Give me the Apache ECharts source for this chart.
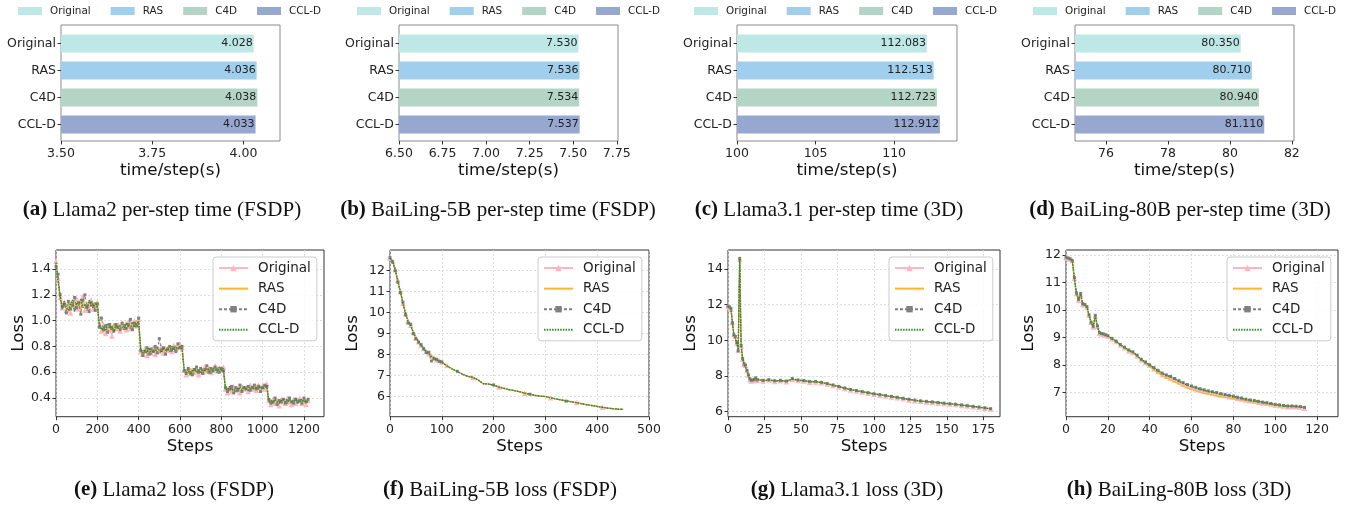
<!DOCTYPE html>
<html><head><meta charset="utf-8">
<script src="https://cdn.jsdelivr.net/npm/echarts@6/dist/echarts.min.js"></script>
<style>html,body{margin:0;padding:0;background:#fff}#c{width:1347px;height:505px}</style>
</head><body><div id="c"></div>
<script>
// ---------------- data ----------------
const methods = ['Original', 'RAS', 'C4D', 'CCL-D'];

// per-step time (s)
const timeLlama2 = [4.028, 4.036, 4.038, 4.033];
const timeBaiLing5B = [7.530, 7.536, 7.534, 7.537];
const timeLlama31 = [112.083, 112.513, 112.723, 112.912];
const timeBaiLing80B = [80.350, 80.710, 80.940, 81.110];

// tick labels
const ticksA = [3.5, 3.75, 4.0];
const ticksB = [6.5, 6.75, 7.0, 7.25, 7.5, 7.75];
const ticksC = [100, 105, 110];
const ticksD = [76, 78, 80, 82];
const ticksEx = [0, 200, 400, 600, 800, 1000, 1200];
const ticksEy = [0.4, 0.6, 0.8, 1.0, 1.2, 1.4];
const ticksFx = [0, 100, 200, 300, 400, 500];
const ticksFy = [6, 7, 8, 9, 10, 11, 12];
const ticksGx = [0, 25, 50, 75, 100, 125, 150, 175];
const ticksGy = [6, 8, 10, 12, 14];
const ticksHx = [0, 20, 40, 60, 80, 100, 120];
const ticksHy = [7, 8, 9, 10, 11, 12];

// (e) Llama2 loss (FSDP), one value every 10 steps from step 0
const eStepSize = 10;
const eOrig = [1.46,1.33,1.18,1.10,1.14,1.08,1.12,1.06,1.15,1.10,1.17,1.09,1.14,1.19,1.08,1.13,1.10,1.16,1.09,1.12,1.14,
  0.96,0.92,0.97,0.90,0.95,0.93,0.88,0.96,0.94,0.97,0.92,0.98,0.95,0.93,0.99,0.94,0.97,1.00,0.96,1.01,
  0.76,0.74,0.78,0.73,0.77,0.75,0.79,0.74,0.78,0.76,0.80,0.75,0.78,0.77,0.79,0.76,0.81,0.78,0.80,0.82,0.79,
  0.62,0.58,0.61,0.59,0.62,0.60,0.63,0.58,0.62,0.60,0.64,0.61,0.63,0.60,0.62,0.65,0.61,0.63,0.62,0.64,
  0.47,0.44,0.48,0.45,0.49,0.46,0.47,0.44,0.49,0.47,0.48,0.45,0.50,0.47,0.49,0.46,0.50,0.48,0.49,0.47,0.51,
  0.38,0.35,0.39,0.36,0.38,0.34,0.39,0.37,0.36,0.40,0.37,0.35,0.39,0.36,0.38,0.40,0.36,0.39,0.35,0.38];
const eRAS = [1.44,1.31,1.16,1.12,1.11,1.13,1.07,1.14,1.10,1.16,1.11,1.15,1.08,1.17,1.12,1.09,1.15,1.11,1.14,1.10,1.15,
  0.94,0.96,0.91,0.97,0.93,0.95,0.92,0.98,0.93,0.95,0.97,0.93,0.96,0.99,0.94,0.97,0.95,0.98,1.00,0.97,
  0.75,0.77,0.74,0.79,0.76,0.78,0.75,0.77,0.80,0.75,0.78,0.77,0.76,0.80,0.77,0.79,0.78,0.81,0.77,0.80,0.81,
  0.60,0.62,0.59,0.63,0.61,0.59,0.62,0.61,0.60,0.63,0.62,0.60,0.64,0.62,0.61,0.63,0.64,0.61,0.63,0.62,
  0.46,0.48,0.45,0.47,0.46,0.49,0.45,0.48,0.47,0.46,0.49,0.48,0.47,0.49,0.46,0.50,0.48,0.47,0.50,0.49,0.48,
  0.37,0.39,0.36,0.38,0.37,0.39,0.36,0.38,0.39,0.37,0.38,0.36,0.39,0.38,0.37,0.39,0.38,0.37,0.39,0.37];
const eC4D = [1.42,1.36,1.20,1.11,1.13,1.06,1.15,1.09,1.12,1.18,1.10,1.14,1.05,1.16,1.20,1.11,1.07,1.14,1.12,1.08,1.13,
  0.95,1.02,0.93,0.96,0.91,0.97,0.94,0.92,0.97,0.95,0.93,0.98,0.96,0.94,0.97,1.01,0.93,0.98,0.96,1.02,
  0.77,0.73,0.76,0.79,0.74,0.78,0.76,0.80,0.75,0.86,0.77,0.79,0.74,0.78,0.80,0.77,0.79,0.76,0.82,0.79,0.80,
  0.61,0.59,0.63,0.60,0.58,0.62,0.64,0.60,0.63,0.59,0.62,0.65,0.60,0.63,0.61,0.64,0.62,0.60,0.63,0.61,
  0.48,0.45,0.47,0.49,0.44,0.48,0.46,0.50,0.45,0.48,0.47,0.49,0.46,0.48,0.50,0.47,0.49,0.45,0.48,0.50,0.49,
  0.39,0.36,0.37,0.40,0.35,0.38,0.37,0.39,0.36,0.38,0.40,0.37,0.36,0.39,0.37,0.38,0.36,0.40,0.37,0.39];
const eCCLD = [1.45,1.30,1.19,1.09,1.15,1.10,1.08,1.13,1.16,1.07,1.14,1.12,1.17,1.10,1.13,1.08,1.16,1.12,1.10,1.14,1.11,
  0.97,0.93,0.95,0.92,0.98,0.94,0.96,0.91,0.97,0.94,0.96,0.95,0.93,0.98,0.96,0.94,0.99,0.95,0.98,0.99,
  0.78,0.75,0.77,0.75,0.79,0.74,0.77,0.76,0.79,0.77,0.75,0.79,0.77,0.78,0.76,0.80,0.77,0.79,0.78,0.80,0.78,
  0.63,0.60,0.62,0.58,0.61,0.63,0.60,0.62,0.59,0.62,0.61,0.63,0.62,0.59,0.63,0.62,0.60,0.64,0.61,0.63,
  0.48,0.46,0.49,0.46,0.47,0.45,0.48,0.47,0.46,0.49,0.47,0.46,0.48,0.49,0.47,0.48,0.47,0.49,0.47,0.48,0.50,
  0.37,0.38,0.36,0.39,0.37,0.36,0.38,0.39,0.37,0.36,0.39,0.38,0.37,0.40,0.36,0.38,0.39,0.37,0.38,0.36];

// (f) BaiLing-5B loss (FSDP)
const fSteps = [0,5,10,15,20,25,30,35,40,45,50,55,60,65,70,75,80,85,90,95,100,
  110,120,130,140,150,160,170,180,190,200,210,220,230,240,250,260,270,280,290,300,
  310,320,330,340,350,360,370,380,390,400,410,420,430,440,450];
const fOrig = [12.60,12.45,12.05,11.55,11.00,10.45,9.95,9.60,9.40,9.05,8.80,8.62,8.45,8.30,8.15,8.05,7.95,7.85,7.75,7.72,7.65,
  7.48,7.32,7.20,7.08,6.97,6.92,6.80,6.62,6.60,6.55,6.46,6.40,6.34,6.29,6.24,6.17,6.12,6.06,6.03,6.01,
  5.95,5.90,5.85,5.80,5.76,5.72,5.67,5.62,5.58,5.54,5.50,5.46,5.43,5.41,5.40];
const fRAS = [12.58,12.40,12.10,11.50,11.05,10.40,10.00,9.55,9.35,9.10,8.78,8.65,8.42,8.32,8.12,8.08,7.92,7.88,7.78,7.70,7.62,
  7.46,7.33,7.19,7.07,6.98,6.91,6.81,6.63,6.61,6.54,6.47,6.39,6.33,6.29,6.23,6.18,6.11,6.07,6.03,6.00,
  5.95,5.89,5.85,5.80,5.77,5.72,5.67,5.61,5.59,5.54,5.50,5.46,5.43,5.41,5.40];
const fC4D = [12.62,12.42,12.00,11.45,10.95,10.50,9.90,9.50,9.45,9.00,8.75,8.60,8.48,8.28,8.10,8.12,7.70,7.80,7.78,7.68,7.66,
  7.47,7.31,7.21,7.06,6.97,6.92,6.80,6.62,6.60,6.56,6.46,6.40,6.33,6.30,6.24,6.17,6.12,6.06,6.03,6.01,
  5.95,5.90,5.84,5.79,5.76,5.72,5.67,5.62,5.58,5.53,5.50,5.46,5.43,5.41,5.40];
const fCCLD = [12.60,12.44,12.06,11.52,11.02,10.44,9.97,9.58,9.38,9.06,8.80,8.63,8.44,8.30,8.14,8.06,7.90,7.84,7.76,7.71,7.64,
  7.47,7.32,7.20,7.07,6.97,6.92,6.80,6.62,6.60,6.55,6.46,6.40,6.34,6.29,6.24,6.17,6.12,6.06,6.03,6.01,
  5.95,5.90,5.85,5.80,5.76,5.72,5.67,5.62,5.58,5.54,5.50,5.46,5.43,5.41,5.40];
const fOrigMarkSteps = [110,160,210,260,310,360,410];
const fC4DMarkSteps = [130,200,270,340];

// (g) Llama3.1 loss (3D)
const gSteps = [0,1,2,3,4,5,6,7,8,9,10,11,12,13,14,15,16,17,18,19,20,
  24,28,32,36,40,44,48,52,56,60,64,68,72,76,80,84,88,92,96,100,
  104,108,112,116,120,124,128,132,136,140,144,148,152,156,160,164,168,172,176,180];
const gOrig = [11.9,11.85,11.75,11.0,10.35,10.25,9.85,9.45,14.55,9.7,8.95,8.65,8.6,8.3,8.05,7.8,7.72,7.75,7.78,7.85,7.75,
  7.72,7.78,7.7,7.74,7.68,7.8,7.75,7.72,7.65,7.66,7.62,7.55,7.47,7.38,7.3,7.22,7.16,7.1,7.04,6.98,
  6.93,6.88,6.83,6.78,6.72,6.66,6.62,6.58,6.55,6.52,6.48,6.46,6.43,6.4,6.35,6.32,6.28,6.24,6.2,6.15];
const gRAS = [11.9,11.85,11.78,11.05,10.3,10.2,9.9,9.5,14.5,9.75,9.0,8.7,8.58,8.3,8.0,7.82,7.74,7.74,7.8,7.84,7.76,
  7.74,7.76,7.72,7.73,7.7,7.82,7.76,7.73,7.67,7.67,7.63,7.56,7.48,7.4,7.32,7.24,7.18,7.12,7.06,7.0,
  6.95,6.9,6.85,6.8,6.74,6.68,6.64,6.6,6.57,6.54,6.5,6.47,6.44,6.41,6.37,6.33,6.29,6.25,6.21,6.16];
const gC4D = [11.92,11.88,11.8,10.98,10.32,10.22,9.88,9.42,14.6,9.72,8.98,8.68,8.62,8.32,8.06,7.84,7.76,7.78,7.82,7.9,7.78,
  7.76,7.8,7.74,7.76,7.72,7.86,7.78,7.75,7.7,7.7,7.65,7.58,7.5,7.42,7.33,7.25,7.19,7.13,7.07,7.01,
  6.96,6.91,6.86,6.81,6.75,6.7,6.65,6.61,6.58,6.55,6.52,6.48,6.45,6.42,6.38,6.34,6.3,6.26,6.22,6.17];
const gCCLD = [11.9,11.86,11.77,11.02,10.33,10.23,9.87,9.47,14.58,9.73,8.97,8.67,8.6,8.31,8.04,7.81,7.73,7.76,7.79,7.86,7.77,
  7.74,7.78,7.72,7.75,7.7,7.83,7.77,7.74,7.68,7.68,7.64,7.57,7.49,7.41,7.32,7.24,7.18,7.12,7.06,7.0,
  6.95,6.9,6.85,6.8,6.74,6.69,6.64,6.6,6.57,6.54,6.51,6.47,6.44,6.41,6.37,6.33,6.29,6.25,6.21,6.16];

// (h) BaiLing-80B loss (3D)
const hSteps = [0,1,2,3,4,5,6,7,8,9,10,11,12,13,14,15,16,17,18,19,20,
  22,24,26,28,30,32,34,36,38,40,42,44,46,48,50,52,54,56,58,60,62,64,66,68,70,
  72,74,76,78,80,82,84,86,88,90,92,94,96,98,100,102,104,106,108,110,112,114];
const hOrig = [11.9,11.88,11.85,11.8,11.15,10.6,10.35,10.55,10.2,10.18,10.1,9.8,9.55,9.38,9.78,9.4,9.15,9.12,9.1,9.08,9.05,
  8.95,8.85,8.72,8.62,8.5,8.45,8.32,8.18,8.08,7.98,7.86,7.76,7.65,7.58,7.52,7.45,7.38,7.3,7.24,7.18,
  7.13,7.08,7.04,7.0,6.97,6.94,6.9,6.88,6.84,6.82,6.78,6.75,6.72,6.69,6.67,6.64,6.62,6.6,6.57,6.54,
  6.52,6.5,6.47,6.48,6.47,6.46,6.42];
const hRAS = [11.9,11.87,11.84,11.8,11.12,10.58,10.38,10.5,10.2,10.16,10.08,9.78,9.52,9.4,9.75,9.38,9.14,9.12,9.1,9.07,9.04,
  8.94,8.84,8.72,8.6,8.5,8.44,8.3,8.16,8.05,7.94,7.8,7.7,7.6,7.52,7.45,7.37,7.3,7.22,7.16,7.1,
  7.05,7.0,6.96,6.93,6.9,6.87,6.84,6.82,6.79,6.77,6.74,6.72,6.69,6.67,6.65,6.62,6.6,6.58,6.55,6.53,
  6.51,6.5,6.48,6.49,6.48,6.47,6.44];
const hC4D = [11.92,11.89,11.86,11.8,11.18,10.62,10.38,10.6,10.22,10.2,10.12,9.82,9.55,9.4,9.8,9.42,9.17,9.14,9.12,9.09,9.06,
  8.96,8.86,8.74,8.64,8.54,8.47,8.35,8.2,8.1,8.0,7.9,7.8,7.7,7.63,7.58,7.5,7.42,7.35,7.28,7.23,
  7.18,7.13,7.09,7.05,7.02,6.99,6.95,6.92,6.89,6.86,6.82,6.79,6.75,6.72,6.7,6.67,6.64,6.62,6.59,6.56,
  6.54,6.52,6.5,6.5,6.49,6.48,6.45];
const hCCLD = [11.9,11.88,11.85,11.8,11.16,10.6,10.37,10.58,10.21,10.19,10.11,9.81,9.54,9.39,9.79,9.41,9.16,9.13,9.11,9.08,9.05,
  8.95,8.85,8.73,8.63,8.52,8.46,8.34,8.19,8.09,7.99,7.88,7.78,7.68,7.61,7.56,7.48,7.4,7.33,7.27,7.21,
  7.16,7.11,7.07,7.03,7.0,6.97,6.93,6.9,6.87,6.84,6.8,6.77,6.74,6.71,6.69,6.66,6.63,6.61,6.58,6.55,
  6.53,6.51,6.49,6.5,6.48,6.47,6.44];

const captions = [
  ['(a)', 'Llama2 per-step time (FSDP)'],
  ['(b)', 'BaiLing-5B per-step time (FSDP)'],
  ['(c)', 'Llama3.1 per-step time (3D)'],
  ['(d)', 'BaiLing-80B per-step time (3D)'],
  ['(e)', 'Llama2 loss (FSDP)'],
  ['(f)', 'BaiLing-5B loss (FSDP)'],
  ['(g)', 'Llama3.1 loss (3D)'],
  ['(h)', 'BaiLing-80B loss (3D)']
];

// ---------------- layout / style ----------------
const FONT = 'DejaVu Sans';
const barColors = ['#BEE8E6', '#A0CEED', '#B4D5C6', '#96A8D0'];
const lineColors = { Original: '#FFB6C1', RAS: '#FFB52E', C4D: '#808080', 'CCL-D': '#2F8F2A' };

const barCharts = [
  { vals: timeLlama2, left: 61, right: 280, min: 3.5, max: 4.1, ticks: ticksA, dec: 2, legendLeft: 18 },
  { vals: timeBaiLing5B, left: 399, right: 618, min: 6.5, max: 7.757, ticks: ticksB, dec: 2, legendLeft: 357 },
  { vals: timeLlama31, left: 737, right: 957, min: 100, max: 114, ticks: ticksC, dec: 0, legendLeft: 694 },
  { vals: timeBaiLing80B, left: 1075, right: 1294, min: 75, max: 82.07, ticks: ticksD, dec: 0, legendLeft: 1033 }
];

const eSteps = eOrig.map((_, i) => i * eStepSize);
const lineCharts = [
  { steps: eSteps, vals: [eOrig, eRAS, eC4D, eCCLD], left: 56, right: 324, xmax: 1297, xt: ticksEx,
    ymin: 0.255, ymax: 1.548, yt: ticksEy, ydec: 1, legendLeft: 213 },
  { steps: fSteps, vals: [fOrig, fRAS, fC4D, fCCLD], left: 390, right: 649, xmax: 500, xt: ticksFx,
    ymin: 5.05, ymax: 12.98, yt: ticksFy, ydec: 0, legendLeft: 538,
    marks: [fOrigMarkSteps, null, fC4DMarkSteps, null], denseUntil: 100 },
  { steps: gSteps, vals: [gOrig, gRAS, gC4D, gCCLD], left: 728, right: 1000, xmax: 186.4, xt: ticksGx,
    ymin: 5.72, ymax: 15.07, yt: ticksGy, ydec: 0, legendLeft: 889 },
  { steps: hSteps, vals: [hOrig, hRAS, hC4D, hCCLD], left: 1066, right: 1338, xmax: 130, xt: ticksHx,
    ymin: 6.11, ymax: 12.18, yt: ticksHy, ydec: 0, legendLeft: 1227 }
];

const grids = [], xAxes = [], yAxes = [], series = [], legends = [];
const tickLabelStyle = { fontSize: 12.5, color: '#222', fontFamily: FONT };
const nameStyle = { fontSize: 16.7, color: '#111', fontFamily: FONT };

// ---- bar charts (top row) ----
barCharts.forEach((c) => {
  const w = c.right - c.left;
  const gOuter = grids.length;
  grids.push({ left: c.left, top: 25, width: w, height: 116, show: true, borderColor: '#8a8a8a', borderWidth: 1,
    backgroundColor: 'rgba(0,0,0,0)', outerBoundsMode: 'none', containLabel: false });
  xAxes.push({ gridIndex: gOuter, type: 'value', show: false, min: 0, max: 1 });
  yAxes.push({ gridIndex: gOuter, type: 'value', show: false, min: 0, max: 1 });

  const gInner = grids.length;
  grids.push({ left: c.left, top: 30, width: w, height: 108, show: false, outerBoundsMode: 'none', containLabel: false });
  const xi = xAxes.length;
  xAxes.push({
    gridIndex: gInner, type: 'value', min: c.min, max: c.max, offset: 3,
    axisLine: { show: false },
    axisTick: { show: true, length: 3.5, lineStyle: { color: '#333' }, customValues: c.ticks },
    axisLabel: { customValues: c.ticks, formatter: (v) => Number(v).toFixed(c.dec), margin: 6, ...tickLabelStyle },
    splitLine: { show: false },
    name: 'time/step(s)', nameLocation: 'middle', nameGap: 21, nameTextStyle: nameStyle
  });
  const yi = yAxes.length;
  yAxes.push({
    gridIndex: gInner, type: 'category', data: methods, inverse: true,
    axisLine: { show: false },
    axisTick: { show: true, alignWithLabel: true, length: 3.5, lineStyle: { color: '#333' } },
    axisLabel: { margin: 5, ...tickLabelStyle },
    splitLine: { show: false }
  });
  methods.forEach((m, i) => {
    series.push({
      type: 'bar', name: 'bar:' + m, xAxisIndex: xi, yAxisIndex: yi,
      data: methods.map((_, j) => (j === i ? c.vals[i] : '-')),
      barWidth: 18, barGap: '-100%',
      itemStyle: { color: barColors[i] },
      label: { show: true, position: 'insideRight', distance: 1, formatter: (p) => Number(p.value).toFixed(3),
        fontSize: 11, color: '#222', fontFamily: FONT }
    });
  });
  legends.push({
    data: methods.map((m) => 'bar:' + m), formatter: (n) => n.slice(4),
    left: c.legendLeft, top: 6, padding: 0, icon: 'rect', itemWidth: 24, itemHeight: 8, itemGap: 20,
    selectedMode: false,
    textStyle: { fontSize: 10.4, color: '#222', fontFamily: FONT, padding: [0, 0, 0, 3] }
  });
});

// ---- line charts (bottom row) ----
lineCharts.forEach((c) => {
  const w = c.right - c.left;
  const gi = grids.length;
  grids.push({ left: c.left, top: 250, width: w, height: 166.7, show: true, borderColor: '#333', borderWidth: 1,
    backgroundColor: 'rgba(0,0,0,0)', outerBoundsMode: 'none', containLabel: false });
  const xi = xAxes.length;
  xAxes.push({
    gridIndex: gi, type: 'value', min: 0, max: c.xmax,
    axisLine: { show: false },
    axisTick: { show: true, length: 3.5, lineStyle: { color: '#333' }, customValues: c.xt },
    axisLabel: { customValues: c.xt, formatter: (v) => String(Math.round(v)), margin: 7, ...tickLabelStyle },
    splitLine: { show: true, lineStyle: { color: '#d6d6d6', type: [2, 2], width: 0.8 } },
    name: 'Steps', nameLocation: 'middle', nameGap: 21, nameTextStyle: nameStyle
  });
  const yi = yAxes.length;
  yAxes.push({
    gridIndex: gi, type: 'value', min: c.ymin, max: c.ymax,
    axisLine: { show: false },
    axisTick: { show: true, length: 3.5, lineStyle: { color: '#333' }, customValues: c.yt },
    axisLabel: { customValues: c.yt, formatter: (v) => Number(v).toFixed(c.ydec), margin: 5, ...tickLabelStyle },
    splitLine: { show: true, lineStyle: { color: '#d6d6d6', type: [2, 2], width: 0.8 } },
    name: 'Loss', nameLocation: 'middle', nameGap: 29, nameRotate: 90, nameTextStyle: nameStyle
  });
  const styles = [
    { symbol: 'triangle', symbolSize: 5.5, lineStyle: { color: lineColors.Original, width: 1.2 }, itemStyle: { color: lineColors.Original } },
    { symbol: 'none', lineStyle: { color: lineColors.RAS, width: 1.2 }, itemStyle: { color: lineColors.RAS } },
    { symbol: 'rect', symbolSize: 3, lineStyle: { color: lineColors.C4D, width: 1, type: [3, 2] }, itemStyle: { color: lineColors.C4D } },
    { symbol: 'none', lineStyle: { color: lineColors['CCL-D'], width: 1.5, type: [1.5, 1.2] }, itemStyle: { color: lineColors['CCL-D'] } }
  ];
  methods.forEach((m, i) => {
    const marks = c.marks ? c.marks[i] : null;
    const data = c.steps.map((s, k) => {
      const item = { value: [s, c.vals[i][k]] };
      if (c.marks && styles[i].symbol !== 'none' && s > c.denseUntil && !(marks && marks.includes(s))) item.symbol = 'none';
      return item;
    });
    series.push(Object.assign({
      type: 'line', name: m, xAxisIndex: xi, yAxisIndex: yi, data,
      showSymbol: true, showAllSymbol: true, clip: true, z: 2 + i
    }, styles[i]));
  });
  legends.push({
    data: methods.map((m, i) => (styles[i].symbol === 'none' ? { name: m, itemStyle: { opacity: 0 } } : { name: m })),
    orient: 'vertical', left: c.legendLeft, top: 257,
    itemWidth: 29, itemHeight: 8, itemGap: 6.6, selectedMode: false,
    padding: [4, 6, 4, 5], backgroundColor: 'rgba(255,255,255,0.85)', borderColor: '#cccccc', borderWidth: 1, borderRadius: 3,
    textStyle: { fontSize: 13.5, lineHeight: 14, color: '#222', fontFamily: FONT, padding: [0, 0, 0, 5] }
  });
});

// ---- captions ----
const capPos = [[162, 210], [498, 210], [829, 210], [1180, 210], [174, 490], [500, 490], [847, 490], [1179, 490]];
const graphics = captions.map((cap, i) => ({
  type: 'text', x: capPos[i][0], y: capPos[i][1], silent: true,
  style: {
    text: '{b|' + cap[0] + '} ' + cap[1],
    fontFamily: 'Liberation Serif', fontSize: 21, fill: '#111',
    align: 'center', verticalAlign: 'middle',
    rich: { b: { fontWeight: 'bold', fontFamily: 'Liberation Serif', fontSize: 21, fill: '#111', color: '#111' } }
  }
}));

const chart = echarts.init(document.getElementById('c'), null, { renderer: 'canvas' });
chart.setOption({
  animation: false,
  backgroundColor: '#fff',
  textStyle: { fontFamily: FONT },
  grid: grids, xAxis: xAxes, yAxis: yAxes, series, legend: legends, graphic: graphics
});
</script>
</body></html>
